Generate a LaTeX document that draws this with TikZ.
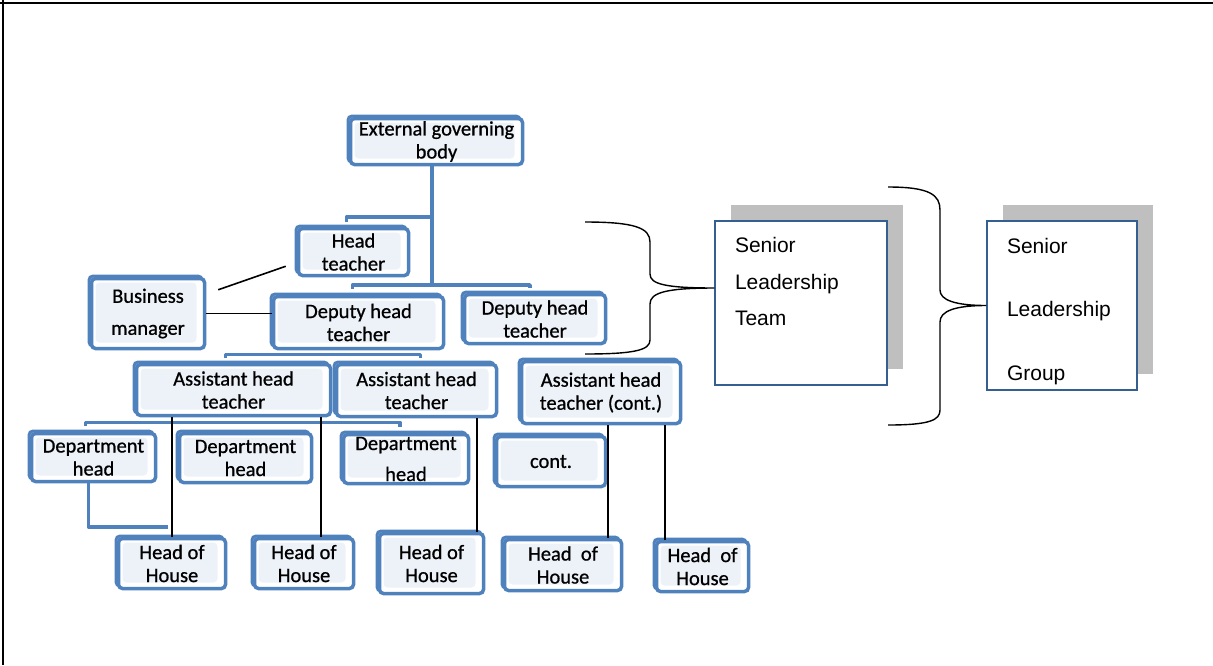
\documentclass[tikz,border=0pt]{standalone}
\usepackage{fontspec}
\setmainfont{Carlito}
\newfontfamily\orgfont[RawFeature={embolden=0.8}]{Carlito}
\newfontfamily\arialfont{Liberation Sans}
\usepackage{xcolor}
\definecolor{boxblue}{HTML}{4F81BD}
\definecolor{boxfill}{HTML}{EDF2F9}
\definecolor{teamblue}{HTML}{365F91}
\definecolor{shadowgrey}{HTML}{BFBFBF}
\usetikzlibrary{positioning, calc, shadows}

\begin{document}
\begin{tikzpicture}[x=1pt, y=-1pt,
  every node/.style={font=\orgfont\fontsize{20.5}{23}\selectfont},
  orgbox/.style={rectangle, rounded corners=4pt, draw=boxblue, line width=3.5pt,
                 fill=white, align=center, inner sep=2pt,
                 preaction={draw=boxblue, line width=3pt,
                            transform canvas={xshift=-2.5pt, yshift=2.5pt}},
                 path picture={\fill[boxfill]
                   ([shift={(4pt,6pt)}]path picture bounding box.south west) rectangle
                   ([shift={(-8pt,-4pt)}]path picture bounding box.north east);}},
  teambox/.style={rectangle, draw=teamblue, line width=1.3pt, fill=white,
                  align=left, inner xsep=20pt, inner ysep=0pt,
                  drop shadow={shadow xshift=16pt, shadow yshift=16pt,
                               fill=shadowgrey, opacity=1}},
  treeline/.style={line width=3.5pt, boxblue, line join=round},
  thinline/.style={line width=1.6pt, black},
  curlyline/.style={line width=1.4pt, black}
]
  \useasboundingbox (0,0) rectangle (1213,665);
  \draw[line width=2pt] (0,3) -- (1213,3);
  \draw[line width=1.5pt] (3,0) -- (3,665);

  \node[orgbox, minimum width=172pt, minimum height=46pt] (govbody) at (436.5,141.5) {External governing\\body};
  \node[orgbox, minimum width=110pt, minimum height=47pt] (headt) at (353.5,252) {Head\\teacher};
  \node[orgbox, minimum width=113pt, minimum height=70pt] (busman) at (148,313.5) {Business\\[9pt]manager};
  \node[orgbox, minimum width=170pt, minimum height=52pt] (deputyA) at (358.5,322.5) {Deputy head\\teacher};
  \node[orgbox, minimum width=141pt, minimum height=49pt] (deputyB) at (535,319) {Deputy head\\teacher};
  \node[orgbox, minimum width=194pt, minimum height=51pt] (assistA) at (233.5,390) {Assistant head\\teacher};
  \node[orgbox, minimum width=160pt, minimum height=52pt] (assistB) at (416.5,390.5) {Assistant head\\teacher};
  \node[orgbox, minimum width=159pt, minimum height=62pt] (assistC) at (601,392.5) {Assistant head\\teacher (cont.)};
  \node[orgbox, minimum width=124pt, minimum height=48pt] (depthA) at (93.5,457.5) {Department\\head};
  \node[orgbox, minimum width=132pt, minimum height=49pt] (depthB) at (245.5,458) {Department\\head};
  \node[orgbox, minimum width=125pt, minimum height=49pt] (depthC) at (406,459) {Department\\[8pt]head};
  \node[orgbox, minimum width=109pt, minimum height=50pt] (contd) at (551,461.5) {cont.};
  \node[orgbox, minimum width=107pt, minimum height=50pt] (houseA) at (172,563.5) {Head of\\House};
  \node[orgbox, minimum width=99pt, minimum height=50pt] (houseB) at (304,563.5) {Head of\\House};
  \node[orgbox, minimum width=104pt, minimum height=60pt] (houseC) at (431.5,563.5) {Head of\\House};
  \node[orgbox, minimum width=117pt, minimum height=51pt] (houseD) at (563,565) {Head\ \ of\\House};
  \node[orgbox, minimum width=92pt, minimum height=50pt] (houseE) at (702.5,566.5) {Head\ \ of\\House};

  \node[teambox, text width=132pt, minimum height=164pt,
        font=\arialfont\fontsize{21}{36.5}\selectfont] (sltbox) at (801,303)
        {Senior\\Leadership\\Team\\\rule[-6pt]{0pt}{0pt}};
  \node[teambox, text width=110pt, minimum height=169pt,
        font=\arialfont\fontsize{21}{63.5}\selectfont] (slgbox) at (1062,305.5)
        {\rule{0pt}{27pt}Senior\\Leadership\\Group};

  \coordinate (trunkA) at (432,217);
  \coordinate (trunkB) at (432,285);
  \draw[treeline] (govbody.south -| trunkA) -- (trunkB);
  \draw[treeline] (trunkA) -| ($(headt.north)+(-7,-5)$);
  \draw[treeline] ($(deputyA.north)+(-6,-6)$) |- (trunkB) -| ($(deputyB.north)+(-5,-5)$);
  \draw[treeline] ($(assistA.north)+(-8,-5)$) |- ($(deputyA.south)+(0,4)$) -| ($(assistB.north)+(4,-5)$);
  \draw[treeline] ($(depthA.north)+(-8,-6)$) |- ($(assistA.south)+(0,5)$) -| ($(depthC.north)+(-6,-6)$);
  \draw[treeline] ($(depthA.south)+(-5,0)$) |- ($(houseA.north)+(-4,-10)$);

  \draw[thinline] (busman.east) -- (busman.east -| deputyA.west);
  \draw[thinline] ($(busman.north east)+(12,13)$) -- ($(headt.south west)+(-11,-11)$);
  \draw[thinline] (houseA.north) -- (houseA.north |- assistA.south);
  \draw[thinline] ($(houseB.north)+(17,0)$) coordinate (legB) -- (legB |- assistA.south);
  \draw[thinline] ($(houseC.north east)+(-8,0)$) coordinate (legC) -- (legC |- assistB.south);
  \draw[thinline] ($(houseD.north east)+(-15,0)$) coordinate (legD) -- (legD |- assistC.south);
  \draw[thinline] ($(houseE.north west)+(10,0)$) coordinate (legE) -- (legE |- assistC.south);

  \draw[curlyline] (585,222) .. controls (635,222) and (650,228) .. (650,242) -- (650,274)
    .. controls (650,284) and (665,288) .. ([yshift=15pt]sltbox.west)
    .. controls (665,288) and (650,293) .. (650,304) -- (650,340)
    .. controls (650,350) and (635,354) .. (585,354);
  \draw[curlyline] (888,187) .. controls (930,187) and (940,195) .. (940,210) -- (940,290)
    .. controls (940,300) and (955,305.5) .. (slgbox.west)
    .. controls (955,305.5) and (940,311) .. (940,322) -- (940,410)
    .. controls (940,420) and (930,425) .. (888,425);
\end{tikzpicture}
\end{document}
